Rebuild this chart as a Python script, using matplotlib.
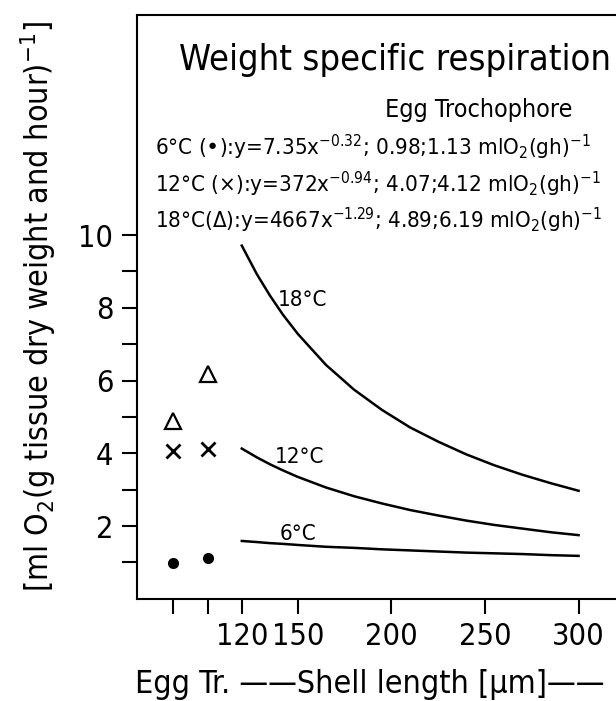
import numpy as np
import matplotlib.pyplot as plt

plt.rcParams['font.family'] = ['DejaVu Sans']
plt.rcParams['font.stretch'] = 'condensed'
plt.rcParams['mathtext.default'] = 'regular'

# shell length [um] and weight specific respiration
shell_len = [120, 128, 135, 142, 150, 165, 180, 195, 210, 225, 240, 255, 270, 285, 300]
resp_18 = [9.71, 8.93, 8.34, 7.81, 7.28, 6.43, 5.75, 5.19, 4.71, 4.32, 3.97, 3.67, 3.41, 3.18, 2.97]
resp_12 = [4.13, 3.89, 3.70, 3.53, 3.35, 3.06, 2.82, 2.62, 2.44, 2.29, 2.15, 2.03, 1.93, 1.83, 1.75]
resp_6 = [1.59, 1.56, 1.53, 1.51, 1.48, 1.43, 1.40, 1.36, 1.33, 1.30, 1.27, 1.25, 1.23, 1.20, 1.18]

# egg and trochophore measurements
stages = ['Egg', 'Trochophore']
egg_troch_6 = [0.98, 1.13]
egg_troch_12 = [4.07, 4.12]
egg_troch_18 = [4.89, 6.19]

x_ticks = [120, 150, 200, 250, 300]
y_major = [2, 4, 6, 8, 10]
y_minor = [1, 3, 5, 7, 9]

eq_lines = [
    r"6°C (•):y=7.35x$^{-0.32}$; 0.98;1.13 mlO$_2$(gh)$^{-1}$",
    r"12°C (×):y=372x$^{-0.94}$; 4.07;4.12 mlO$_2$(gh)$^{-1}$",
    r"18°C(Δ):y=4667x$^{-1.29}$; 4.89;6.19 mlO$_2$(gh)$^{-1}$",
]

# where the two stage columns sit on the shell length axis
stage_pos = [83, 102]

fig = plt.figure(figsize=(6.16, 7.01), dpi=100)
ax = fig.add_axes([0.2224, 0.1458, 0.7776, 0.8328])

ax.plot(shell_len, resp_18, color='black', lw=1.8)
ax.plot(shell_len, resp_12, color='black', lw=1.8)
ax.plot(shell_len, resp_6, color='black', lw=1.8)

ax.plot(stage_pos, egg_troch_6, 'o', ms=7, color='black')
ax.plot(stage_pos, egg_troch_12, 'x', ms=10, mew=2, color='black')
ax.plot(stage_pos, egg_troch_18, '^', ms=11, mfc='none', mec='black', mew=1.6)

# curve labels
ax.text(139.3, 8.04, '18°C', fontsize=16, va='baseline')
ax.text(137.6, 3.73, '12°C', fontsize=16, va='baseline')
ax.text(140.3, 1.61, '6°C', fontsize=16, va='baseline')

ax.set_xlim(64, 320)
ax.set_ylim(0, 16.05)
ax.set_xticks(stage_pos + x_ticks)
ax.set_xticklabels(['', ''] + [str(v) for v in x_ticks])
ax.set_yticks(y_major)
ax.set_yticks(y_minor, minor=True)

ax.tick_params(which='both', direction='out', length=11, width=1.5, labelsize=22, pad=6)
for s in ['left', 'bottom', 'top']:
    ax.spines[s].set_linewidth(1.5)
ax.spines['right'].set_visible(False)

# title and equations
fig.text(0.2906, 0.900, 'Weight specific respiration', fontsize=26, va='baseline')
fig.text(0.625, 0.833, 'Egg Trochophore', fontsize=18, va='baseline')
for i, line in enumerate(eq_lines):
    fig.text(0.2516, 0.779 - i * 0.0525, line, fontsize=16, va='baseline')

fig.text(0.0617, 0.562, r'[ml O$_2$(g tissue dry weight and hour)$^{-1}$]',
         fontsize=23, rotation=90, ha='center', va='center')
fig.text(0.219, 0.0114, 'Egg Tr. ——Shell length [µm]——', fontsize=23, va='baseline')

fig.savefig('out.png', dpi=100)
